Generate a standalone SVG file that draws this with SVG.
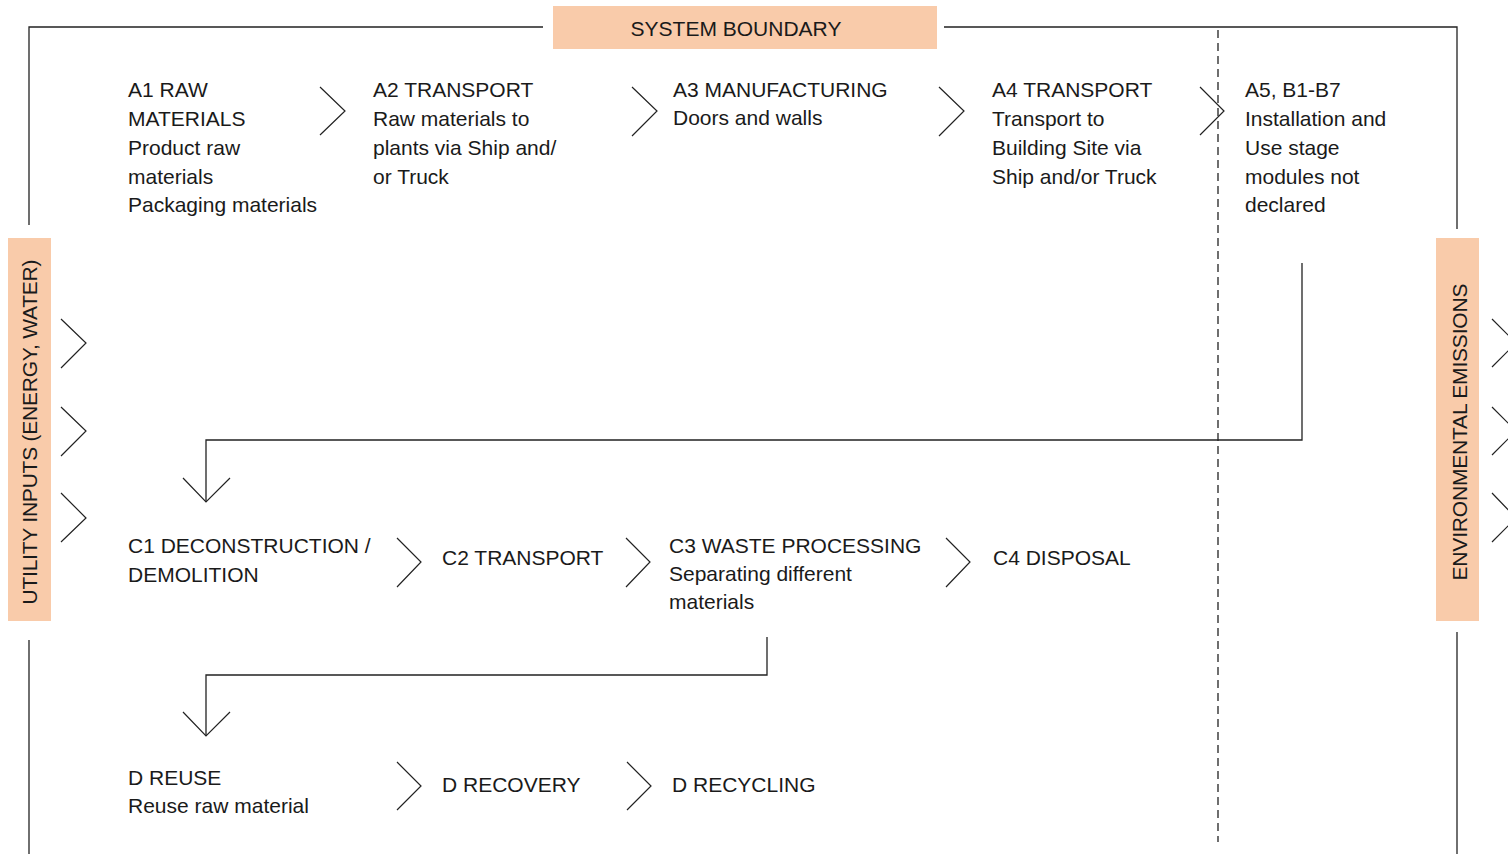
<svg xmlns="http://www.w3.org/2000/svg" width="1508" height="854" viewBox="0 0 1508 854">
<style>
text{font-family:"Liberation Sans",Arial,sans-serif;font-size:21px;fill:#1a1a1a}
.ln{fill:none;stroke:#222;stroke-width:1.3}
.ch{fill:none;stroke:#222;stroke-width:1.2}
.dash{fill:none;stroke:#222;stroke-width:1.3;stroke-dasharray:8 5}
.tag{fill:#F9CBAA}
</style>
<rect width="1508" height="854" fill="#fff"/>
<g id="boundary">
<polyline class="ln" points="29,225 29,27 543,27"/>
<polyline class="ln" points="944,27 1457,27 1457,229"/>
<line class="ln" x1="29" y1="640" x2="29" y2="854"/>
<line class="ln" x1="1457" y1="632" x2="1457" y2="854"/>
<line class="dash" x1="1218" y1="30" x2="1218" y2="842"/>
</g>
<g id="system-boundary">
<rect class="tag" x="553" y="6" width="384" height="43"/>
<text x="736" y="36" text-anchor="middle" font-size="20.5">SYSTEM BOUNDARY</text>
</g>
<g id="utility-inputs">
<rect class="tag" x="8" y="238" width="43" height="383"/>
<text transform="translate(37,432) rotate(-90)" text-anchor="middle" font-size="20.5" textLength="345">UTILITY INPUTS (ENERGY, WATER)</text>
</g>
<g id="environmental-emissions">
<rect class="tag" x="1436" y="238" width="43" height="383"/>
<text transform="translate(1467,432) rotate(-90)" text-anchor="middle" font-size="20.5" textLength="297">ENVIRONMENTAL  EMISSIONS</text>
</g>
<g id="A1"><text x="128" y="97">A1 RAW</text><text x="128" y="126">MATERIALS</text><text x="128" y="155">Product raw</text><text x="128" y="184">materials</text><text x="128" y="212">Packaging materials</text></g>
<g id="A2"><text x="373" y="97">A2 TRANSPORT</text><text x="373" y="126">Raw materials to</text><text x="373" y="155">plants via Ship and/</text><text x="373" y="184">or Truck</text></g>
<g id="A3"><text x="673" y="97">A3 MANUFACTURING</text><text x="673" y="125">Doors and walls</text></g>
<g id="A4"><text x="992" y="97">A4 TRANSPORT</text><text x="992" y="126">Transport to</text><text x="992" y="155">Building Site via</text><text x="992" y="184">Ship and/or Truck</text></g>
<g id="A5-B7"><text x="1245" y="97">A5, B1-B7</text><text x="1245" y="126">Installation and</text><text x="1245" y="155">Use stage</text><text x="1245" y="184">modules not</text><text x="1245" y="212">declared</text></g>
<g id="C1"><text x="128" y="553">C1 DECONSTRUCTION /</text><text x="128" y="582">DEMOLITION</text></g>
<g id="C2"><text x="442" y="565">C2 TRANSPORT</text></g>
<g id="C3"><text x="669" y="553">C3 WASTE PROCESSING</text><text x="669" y="581">Separating different</text><text x="669" y="609">materials</text></g>
<g id="C4"><text x="993" y="565">C4 DISPOSAL</text></g>
<g id="D-reuse"><text x="128" y="785">D REUSE</text><text x="128" y="813">Reuse raw material</text></g>
<g id="D-recovery"><text x="442" y="792">D RECOVERY</text></g>
<g id="D-recycling"><text x="672" y="792">D RECYCLING</text></g>
<g id="connectors">
<polyline class="ch" points="320,87 345,111 320,135"/>
<polyline class="ch" points="632,87 657,111 632,136"/>
<polyline class="ch" points="939,87 964,111 939,136"/>
<polyline class="ch" points="1200,87 1224,111 1200,135"/>
<polyline class="ch" points="397,538 421,562 397,587"/>
<polyline class="ch" points="626,538 650,562 626,587"/>
<polyline class="ch" points="946,538 970,562 946,587"/>
<polyline class="ch" points="397,762 421,786 397,810"/>
<polyline class="ch" points="627,762 651,786 627,810"/>
<polyline class="ch" points="61,319 86,343 61,368"/>
<polyline class="ch" points="61,407 86,431 61,456"/>
<polyline class="ch" points="61,493 86,518 61,542"/>
<polyline class="ch" points="1492,319 1516,343 1492,367"/>
<polyline class="ch" points="1492,407 1516,431 1492,455"/>
<polyline class="ch" points="1492,493 1516,518 1492,542"/>
<polyline class="ln" points="1302,263 1302,440 206,440 206,502"/>
<polyline class="ch" points="183,478 206,502 230,478"/>
<polyline class="ln" points="767,637 767,675 206,675 206,736"/>
<polyline class="ch" points="183,712 206,736 230,712"/>
</g>
</svg>
